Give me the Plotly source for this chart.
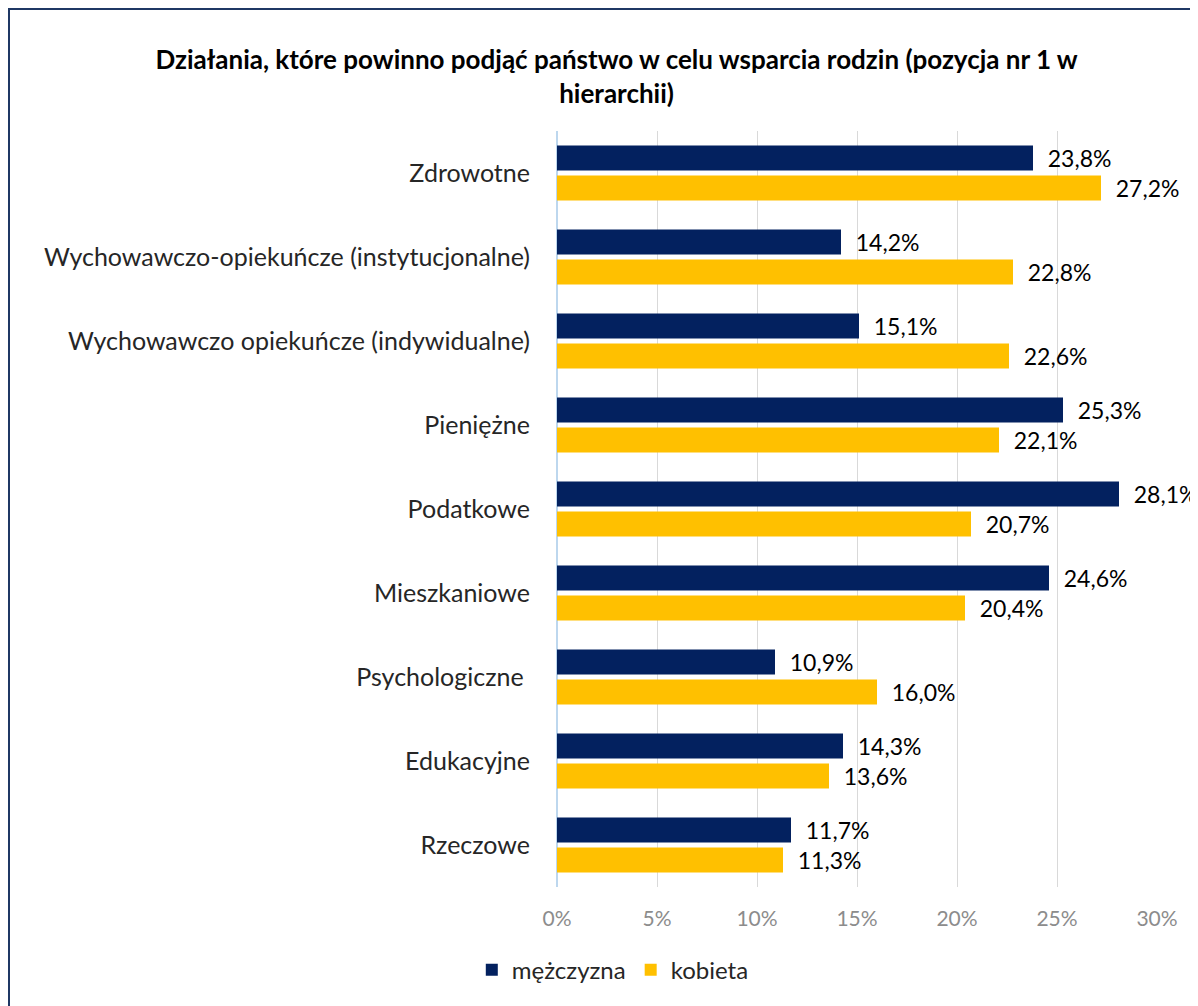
import plotly.graph_objects as go

categories = [
    "Zdrowotne",
    "Wychowawczo-opiekuńcze (instytucjonalne)",
    "Wychowawczo opiekuńcze (indywidualne)",
    "Pieniężne",
    "Podatkowe",
    "Mieszkaniowe",
    "Psychologiczne\u00a0",
    "Edukacyjne",
    "Rzeczowe",
]
men = [23.8, 14.2, 15.1, 25.3, 28.1, 24.6, 10.9, 14.3, 11.7]
women = [27.2, 22.8, 22.6, 22.1, 20.7, 20.4, 16.0, 13.6, 11.3]
x_ticks = [0, 5, 10, 15, 20, 25, 30]
x_tick_labels = ["0%", "5%", "10%", "15%", "20%", "25%", "30%"]

FONT = "Lato, 'Open Sans', sans-serif"
NAVY = "#03215F"
YELLOW = "#FFC000"

fig = go.Figure()
for name, vals, color in [("mężczyzna", men, NAVY), ("kobieta", women, YELLOW)]:
    fig.add_trace(go.Bar(
        y=categories, x=vals, name=name, orientation="h",
        marker=dict(color=color, line=dict(width=0)),
        texttemplate="  %{x:.1f}%", textposition="outside",
        textfont=dict(size=23, color="#000000", family=FONT),
        constraintext="none", cliponaxis=False,
    ))

# the page puts the figure 8px in from the window edge, margins account for it
fig.update_layout(
    width=1198, height=1006,
    margin=dict(l=549, r=49, t=123, b=127),
    paper_bgcolor="white", plot_bgcolor="white",
    separators=", ",
    barmode="group", bargap=0.286, bargroupgap=1 / 6,
    font=dict(family=FONT, color="#262626"),
    title=dict(
        text="<b>Działania, które powinno podjąć państwo w celu wsparcia rodzin (pozycja nr 1 w<br>hierarchii)</b>",
        x=0.508, xref="container", xanchor="center",
        y=1 - 61 / 1006, yref="container", yanchor="top",
        font=dict(size=26, color="#000000", family=FONT),
    ),
    legend=dict(
        orientation="h", x=0.093, xanchor="center",
        y=-0.11, yanchor="middle",
        font=dict(size=24, color="#262626", family=FONT),
        traceorder="normal",
    ),
    showlegend=True,
)

fig.update_xaxes(
    range=[0, 30], tickvals=x_ticks, ticktext=x_tick_labels,
    showgrid=True, gridcolor="#D9D9D9", gridwidth=1,
    zeroline=True, zerolinecolor="#BDD7EE", zerolinewidth=2,
    tickfont=dict(size=21, color="#8C8C8C"),
    ticks="", ticklabelstandoff=17,
)
fig.update_yaxes(
    autorange="reversed", categoryorder="array", categoryarray=categories,
    tickfont=dict(size=25, color="#262626"),
    ticks="", ticklabelstandoff=26,
)

# outer chart border (runs past the window on the right and bottom)
fig.add_shape(
    type="rect", xref="paper", yref="paper",
    x0=(1 - 549) / 600, x1=(1215 - 549) / 600,
    y0=(879 - 1020) / 756, y1=(879 - 1) / 756,
    line=dict(color="#1F3864", width=2), fillcolor="rgba(0,0,0,0)",
    layer="below",
)

fig.write_html("out.html")
